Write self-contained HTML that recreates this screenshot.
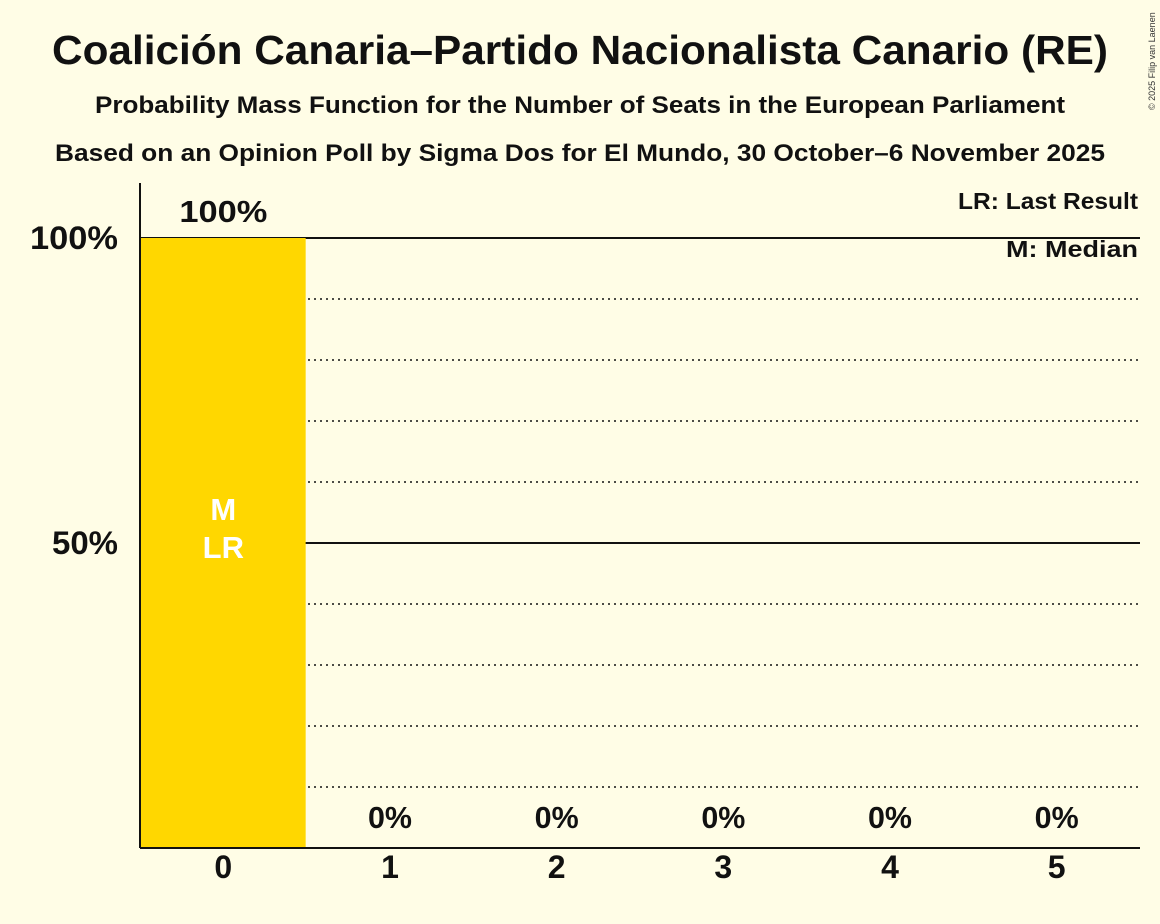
<!DOCTYPE html>
<html><head><meta charset="utf-8"><style>
body{margin:0;background:#FFFDE6;}
svg{display:block;font-family:"Liberation Sans",sans-serif;}
</style></head><body>
<svg id="c" width="1160" height="924" xmlns="http://www.w3.org/2000/svg">
<rect width="1160" height="924" fill="#FFFDE6"/>
<text x="580" y="64" text-anchor="middle" font-size="41" font-weight="bold" fill="#111" textLength="1056" lengthAdjust="spacingAndGlyphs">Coalición Canaria–Partido Nacionalista Canario (RE)</text>
<text x="580" y="113" text-anchor="middle" font-size="24" font-weight="bold" fill="#111" textLength="970" lengthAdjust="spacingAndGlyphs">Probability Mass Function for the Number of Seats in the European Parliament</text>
<text x="580" y="161" text-anchor="middle" font-size="24" font-weight="bold" fill="#111" textLength="1050" lengthAdjust="spacingAndGlyphs">Based on an Opinion Poll by Sigma Dos for El Mundo, 30 October–6 November 2025</text>
<text x="1155" y="110" transform="rotate(-90 1155 110)" font-size="9" fill="#333">© 2025 Filip van Laenen</text>
<text x="1138" y="209" text-anchor="end" font-size="23" font-weight="bold" fill="#111" textLength="180" lengthAdjust="spacingAndGlyphs">LR: Last Result</text>
<text x="1138" y="257" text-anchor="end" font-size="23" font-weight="bold" fill="#111" textLength="132" lengthAdjust="spacingAndGlyphs">M: Median</text>
<g id="plot"></g>
</svg>
<script>
const categories=[0,1,2,3,4,5];
const values=[100,0,0,0,0,0];
const valueLabels=["100%","0%","0%","0%","0%","0%"];
const yTicks=[50,100];
const grid=[10,20,30,40,60,70,80,90];
const medianIdx=0, lastResultIdx=0;
const X0=140,X1=1140,Y0=848,Y100=238;
const bw=(X1-X0)/categories.length;
const x=i=>X0+i*bw;
const y=v=>Y0-(Y0-Y100)*v/100;
const ns="http://www.w3.org/2000/svg";
const g=document.getElementById('plot');
function mk(t,a,txt){const e=document.createElementNS(ns,t);for(const k in a)e.setAttribute(k,a[k]);if(txt!==undefined)e.textContent=txt;g.appendChild(e);return e;}
grid.forEach(v=>{const e=mk('line',{x1:X0,x2:X1,y1:y(v),y2:y(v),stroke:'#111','stroke-width':1.5,'stroke-dasharray':'2,4'});

});
yTicks.forEach(v=>{const e=mk('line',{x1:X0,x2:X1,y1:y(v),y2:y(v),stroke:'#111','stroke-width':2});


const t=mk('text',{x:118,y:y(v)+11,'text-anchor':'end','font-size':32,'font-weight':'bold',fill:'#111',textLength:(String(v).length*22+22),lengthAdjust:'spacingAndGlyphs'},v+'%');

});
categories.forEach((c,i)=>{
 if(values[i]>0){const r=mk('rect',{x:x(i)+1,y:y(values[i]),width:bw-2,height:Y0-y(values[i]),fill:'#FFD700'});
 
 }
 const vy=values[i]>0?y(values[i])-16:Y0-20;
 const t=mk('text',{x:x(i)+bw/2,y:vy,'text-anchor':'middle','font-size':31,'font-weight':'bold',fill:'#111',textLength:(valueLabels[i].length*22),lengthAdjust:'spacingAndGlyphs'},valueLabels[i]);
 
 
 const xl=mk('text',{x:x(i)+bw/2,y:878,'text-anchor':'middle','font-size':32,'font-weight':'bold',fill:'#111'},String(c));
 
 
});
const m=mk('text',{x:x(medianIdx)+bw/2,y:520,'text-anchor':'middle','font-size':31,'font-weight':'bold',fill:'#fff'},'M');


const lr=mk('text',{x:x(lastResultIdx)+bw/2,y:558,'text-anchor':'middle','font-size':31,'font-weight':'bold',fill:'#fff'},'LR');


const ya=mk('line',{x1:X0,x2:X0,y1:183,y2:Y0,stroke:'#111','stroke-width':2});


const xa=mk('line',{x1:X0,x2:X1,y1:Y0,y2:Y0,stroke:'#111','stroke-width':2});


</script>
</body></html>
